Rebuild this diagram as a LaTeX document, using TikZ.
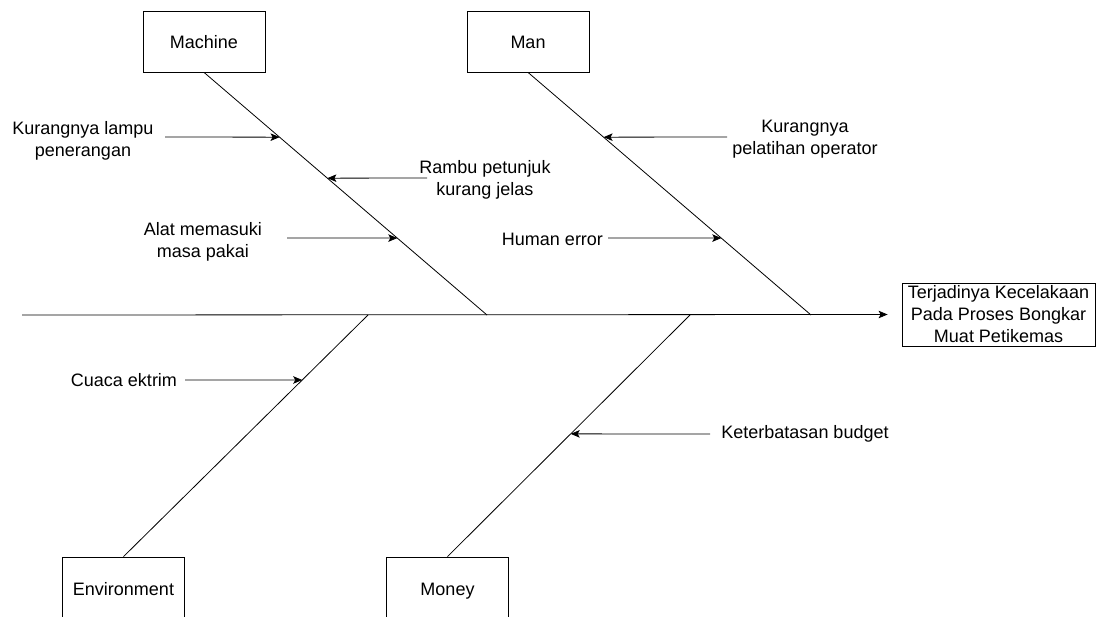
\documentclass[tikz,border=0pt]{standalone}
\usepackage{fontspec}
\setmainfont{Liberation Sans}
\usetikzlibrary{arrows.meta,calc}

\begin{document}
\begin{tikzpicture}[x=1pt,y=-1pt,line width=0.8pt,
  every node/.style={font=\fontsize{18}{22}\selectfont},
  catbox/.style={draw,minimum width=122pt,minimum height=61pt,inner sep=0pt,text height=17pt,text depth=2pt},
  cause/.style={align=center,inner sep=0pt},
  arr/.style={-{Stealth[length=9pt,width=7.5pt,inset=2pt]}}]
\useasboundingbox (0,0) rectangle (1099,617);
\node[catbox] (machine) at (204,41.5) {Machine};
\node[catbox] (man) at (528,41.5) {Man};
\node[catbox] (env) at (123.5,587.5) {Environment};
\node[catbox] (money) at (447.5,587.5) {Money};
\node[draw,align=center,inner sep=0pt,minimum width=193pt,minimum height=63pt] (effect) at (998.5,314.5)
  {Terjadinya Kecelakaan\\Pada Proses Bongkar\\Muat Petikemas};
\coordinate (tail) at (22,315);
\coordinate (jmach) at (487,315);
\coordinate (jman) at (811,315);
\coordinate (jenv) at (368,315);
\coordinate (jmoney) at (690,315);
\draw[arr] (tail) -- ([xshift=-14pt]effect.west);
\draw (machine.south) -- (jmach);
\draw (man.south) -- (jman);
\draw (env.north) -- (jenv);
\draw (money.north) -- (jmoney);
\coordinate (h1) at ($(machine.south)!0.267!(jmach)$);
\coordinate (h2) at ($(machine.south)!0.436!(jmach)$);
\coordinate (h3) at ($(machine.south)!0.683!(jmach)$);
\coordinate (h4) at ($(man.south)!0.267!(jman)$);
\coordinate (h5) at ($(man.south)!0.683!(jman)$);
\coordinate (h6) at ($(jenv)!0.269!(env.north)$);
\coordinate (h7) at ($(jmoney)!0.492!(money.north)$);
\node[cause] (lampu) at (83,141) {Kurangnya lampu\\penerangan};
\node[cause] (rambu) at (485,180) {Rambu petunjuk\\kurang jelas};
\node[cause] (alat) at (203,242) {Alat memasuki\\masa pakai};
\node[cause] (latih) at (805,139) {Kurangnya\\pelatihan operator};
\node[cause] (human) at (552.5,239.5) {Human error};
\node[cause] (cuaca) at (124,380) {Cuaca ektrim};
\node[cause] (budget) at (805,434) {Keterbatasan budget};
\coordinate (t1) at (165,137);
\coordinate (t2) at (427,178);
\coordinate (t3) at (287,238);
\coordinate (t4) at (727,137);
\coordinate (t5) at (608,238);
\coordinate (t6) at (185,380);
\coordinate (t7) at (710,434);
\draw[arr] (t1) -- (h1);
\draw[arr] (t2) -- (h2);
\draw[arr] (t3) -- (h3);
\draw[arr] (t4) -- (h4);
\draw[arr] (t5) -- (h5);
\draw[arr] (t6) -- (h6);
\draw[arr] (t7) -- (h7);
\end{tikzpicture}
\end{document}
